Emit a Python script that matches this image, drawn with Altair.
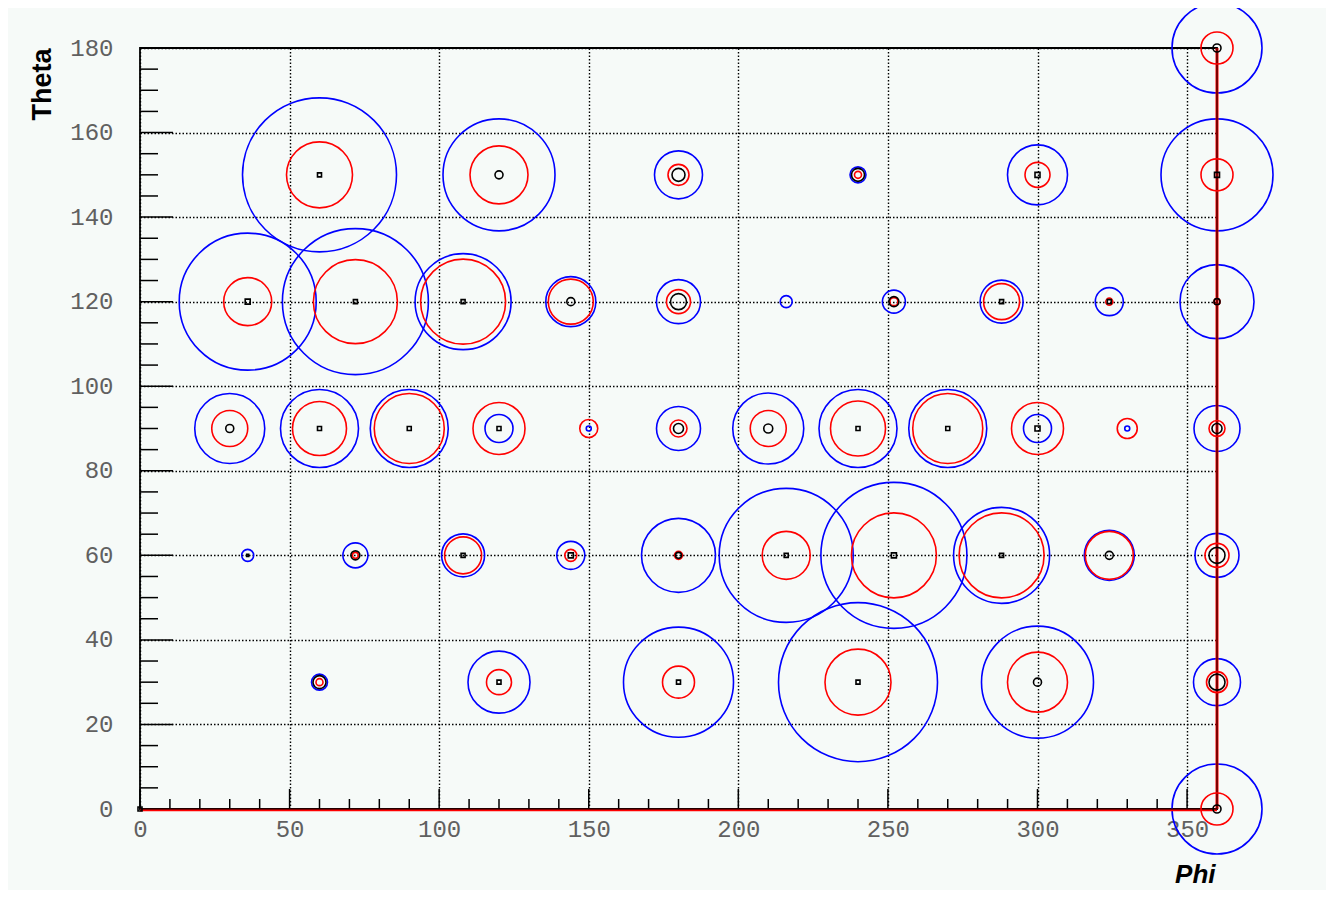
import altair as alt
import pandas as pd

# ---- data ----
phi = [360, 360, 0,
       60, 120, 180, 240, 300, 360,
       36, 72, 108, 144, 180, 216, 252, 288, 324, 360,
       30, 60, 90, 120, 150, 180, 210, 240, 270, 300, 330, 360,
       36, 72, 108, 144, 180, 216, 252, 288, 324, 360,
       60, 120, 180, 240, 300, 360]
theta = [180, 0, 0,
         150, 150, 150, 150, 150, 150,
         120, 120, 120, 120, 120, 120, 120, 120, 120, 120,
         90, 90, 90, 90, 90, 90, 90, 90, 90, 90, 90, 90,
         60, 60, 60, 60, 60, 60, 60, 60, 60, 60,
         30, 30, 30, 30, 30, 30]
blue_r = [45, 45, 0,
          77, 56, 24, 8, 30, 56,
          68.5, 73, 48, 25, 22, 6, 11.5, 21.5, 14, 37,
          35, 39, 39, 14, 2.5, 22, 35.5, 39, 39, 14, 2.5, 23,
          6, 12.5, 21.5, 14, 37, 67, 73, 48, 25, 22,
          8, 31, 55, 79.5, 56, 23.5]
red_r = [16, 16, 0,
         33, 29, 10.5, 3.5, 12.5, 16,
         24, 42, 42.5, 22.5, 12, 0, 4, 18, 3.5, 3,
         18, 27, 35, 26, 9, 8.5, 18, 27.5, 35, 26, 10, 8,
         0, 3, 18.5, 6, 4, 24, 42.5, 42.5, 24, 12,
         3.5, 12.5, 16, 33, 30, 10.5]
black_r = [4, 4, 2,
           2, 4, 6.5, 6.5, 2.5, 2.5,
           2.5, 2, 2, 4, 8, 0, 5, 2, 2, 3,
           4, 2, 2, 2, 0, 5, 4.5, 2, 2, 2.5, 0, 5,
           1, 4.5, 2, 2.5, 3, 2, 2.5, 2, 4, 8,
           6.5, 2, 2, 2, 4, 8]

x_major = [0, 50, 100, 150, 200, 250, 300, 350]
x_minor = [v for v in range(10, 360, 10) if v % 50 != 0]
y_major = [0, 20, 40, 60, 80, 100, 120, 140, 160, 180]
y_minor = [v for v in range(5, 180, 5) if v % 20 != 0]

edge_phi = [0, 360]
edge_phi2 = [360, 360]
edge_theta = [0, 0]
edge_theta2 = [0, 180]

# ---- tables ----
df = pd.DataFrame({"phi": phi, "theta": theta, "blue": blue_r,
                   "red": red_r, "black": black_r})
df["kshape"] = ["circle" if r >= 3 else "square" for r in black_r]
edges = pd.DataFrame({"phi": edge_phi, "phi2": edge_phi2,
                      "theta": edge_theta, "theta2": edge_theta2})
bottom_edge = edges.iloc[[0]]
right_edge = edges.iloc[[1]]
ymaj_df = pd.DataFrame({"theta": y_major})
ymin_df = pd.DataFrame({"theta": y_minor})
xmaj_df = pd.DataFrame({"phi": x_major})
xmin_df = pd.DataFrame({"phi": x_minor})

W, H = 1077, 761

xs = alt.Scale(domain=[0, 360], nice=False, zero=False)
ys = alt.Scale(domain=[0, 180], nice=False, zero=False)
# Vega circle symbol: diameter = sqrt(size) -> size = (2r)^2
size_scale = alt.Scale(type="pow", exponent=2, domain=[0, 80], range=[0, 25600])

x_axis = alt.Axis(values=x_major, labelFont="Liberation Mono", labelFontSize=24,
                  labelColor="#606060", labelFlush=False, labelPadding=8,
                  tickSize=0, domain=False, grid=True, gridColor="#000000",
                  gridDash=[1.5, 2], gridWidth=1.4, gridOpacity=1,
                  title="Phi", titleFont="Liberation Sans", titleFontSize=26,
                  titleFontWeight="bold", titleFontStyle="italic",
                  titleColor="#000000", titleX=W - 2, titleY=73,
                  titleAlign="right", titleBaseline="alphabetic")
y_axis = alt.Axis(values=y_major, labelFont="Liberation Mono", labelFontSize=24,
                  labelColor="#606060", labelFlush=False, labelPadding=27,
                  tickSize=0, domain=False, grid=True, gridColor="#000000",
                  gridDash=[1.5, 2], gridWidth=1.4, gridOpacity=1,
                  title="Theta", titleFont="Liberation Sans", titleFontSize=27,
                  titleFontWeight="bold", titleColor="#000000",
                  titleAngle=270, titleX=-90, titleY=0,
                  titleAlign="right", titleBaseline="alphabetic")

X = alt.X("phi:Q", scale=xs, axis=x_axis)
Y = alt.Y("theta:Q", scale=ys, axis=y_axis)

blue = alt.Chart(df).mark_point(shape="circle", filled=False, color="#0000ff",
                                strokeWidth=1.6, opacity=1).encode(
    x=X, y=Y, size=alt.Size("blue:Q", scale=size_scale, legend=None))
red = alt.Chart(df).mark_point(shape="circle", filled=False, color="#ff0000",
                               strokeWidth=1.6, opacity=1).encode(
    x=X, y=Y, size=alt.Size("red:Q", scale=size_scale, legend=None))
black = alt.Chart(df).mark_point(filled=False, color="#000000",
                                 strokeWidth=1.6, opacity=1).encode(
    x=X, y=Y, size=alt.Size("black:Q", scale=size_scale, legend=None),
    shape=alt.Shape("kshape:N", scale=None))

ymaj = alt.Chart(ymaj_df).mark_rule(color="#000000", strokeWidth=1.5).encode(
    y=Y, x=alt.value(0), x2=alt.value(33))
ymin = alt.Chart(ymin_df).mark_rule(color="#000000", strokeWidth=1.5).encode(
    y=Y, x=alt.value(0), x2=alt.value(18))
xmaj = alt.Chart(xmaj_df).mark_rule(color="#000000", strokeWidth=1.5).encode(
    x=X, y=alt.value(H), y2=alt.value(H - 20))
xmin = alt.Chart(xmin_df).mark_rule(color="#000000", strokeWidth=1.5).encode(
    x=X, y=alt.value(H), y2=alt.value(H - 10))

red_bottom = alt.Chart(bottom_edge).mark_rule(color="#ff0000", strokeWidth=2.5, yOffset=1).encode(
    x=X, x2="phi2:Q", y=Y)
red_right = alt.Chart(right_edge).mark_rule(color="#ff0000", strokeWidth=3).encode(
    x=X, y=Y, y2="theta2:Q")
blk_bottom = alt.Chart(bottom_edge).mark_rule(color="#000000", strokeWidth=1).encode(
    x=X, x2="phi2:Q", y=Y)
blk_right = alt.Chart(right_edge).mark_rule(color="#000000", strokeWidth=1).encode(
    x=X, y=Y, y2="theta2:Q")

chart = alt.layer(
    blue, ymaj, ymin, xmaj, xmin, red_bottom, red_right, blk_bottom, blk_right, red, black
).properties(
    width=W, height=H,
    autosize=alt.AutoSizeParams(type="none"),
    padding={"left": 132, "top": 40, "right": 109, "bottom": 81},
    background="#f6faf8",
).configure_view(
    stroke="#000000", strokeWidth=1.8, fill="#f6faf8"
)

chart.save("out.html", embed_options={"renderer": "svg", "actions": False})
